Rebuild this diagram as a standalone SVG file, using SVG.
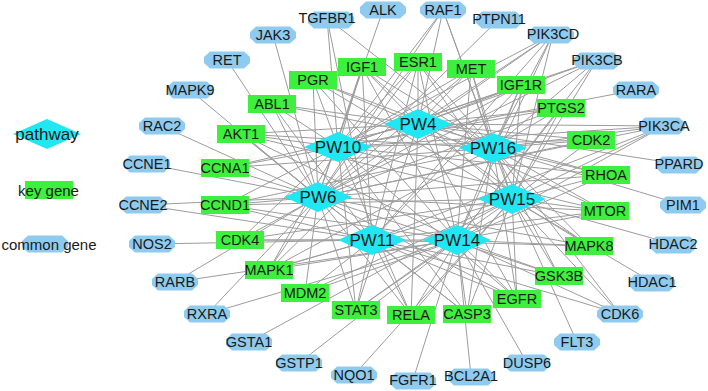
<svg xmlns="http://www.w3.org/2000/svg" xmlns:xlink="http://www.w3.org/1999/xlink" width="708" height="391" viewBox="0 0 708 391">
<style>
.bg{fill:#ffffff}
.e line{stroke:#9c9c9c;stroke-width:1}
.pw{fill:#20e7f2}
.kg{fill:#3df03d}
.cg{fill:#8ecbef}
text{font-family:"Liberation Sans",Arial,sans-serif;fill:#1a1a1a;text-anchor:middle;dominant-baseline:central}
.tp{font-size:17px}
.tg{font-size:14.5px}
.tl{font-size:15px}
</style>
<defs>
<polygon id="dia" points="-34,0 0,-15 34,0 0,15"/>
<rect id="box" x="-24" y="-9" width="48" height="18"/>
<polygon id="oct" points="-23,-3 -17,-8.5 17,-8.5 23,-3 23,3 17,8.5 -17,8.5 -23,3"/>
</defs>
<rect class="bg" x="0" y="0" width="708" height="391"/>
<g id="connectors" class="e">
<line x1="327" y1="18" x2="338" y2="147"/>
<line x1="327" y1="18" x2="493" y2="148"/>
<line x1="327" y1="18" x2="372" y2="240"/>
<line x1="273" y1="35" x2="318" y2="197"/>
<line x1="227" y1="60" x2="318" y2="197"/>
<line x1="190" y1="90" x2="318" y2="197"/>
<line x1="162" y1="126" x2="318" y2="197"/>
<line x1="147" y1="164" x2="318" y2="197"/>
<line x1="143" y1="205" x2="318" y2="197"/>
<line x1="143" y1="205" x2="372" y2="240"/>
<line x1="152" y1="244" x2="372" y2="240"/>
<line x1="175" y1="282" x2="318" y2="197"/>
<line x1="175" y1="282" x2="457" y2="240"/>
<line x1="207" y1="314" x2="318" y2="197"/>
<line x1="207" y1="314" x2="457" y2="240"/>
<line x1="249" y1="342" x2="512" y2="199"/>
<line x1="299" y1="363" x2="457" y2="240"/>
<line x1="354" y1="375" x2="512" y2="199"/>
<line x1="413" y1="380" x2="457" y2="240"/>
<line x1="471" y1="376" x2="457" y2="240"/>
<line x1="527" y1="363" x2="457" y2="240"/>
<line x1="577" y1="342" x2="512" y2="199"/>
<line x1="620" y1="314" x2="512" y2="199"/>
<line x1="620" y1="314" x2="493" y2="148"/>
<line x1="620" y1="314" x2="457" y2="240"/>
<line x1="620" y1="314" x2="372" y2="240"/>
<line x1="652" y1="282" x2="512" y2="199"/>
<line x1="673" y1="244" x2="512" y2="199"/>
<line x1="683" y1="205" x2="493" y2="148"/>
<line x1="679" y1="164" x2="418" y2="124"/>
<line x1="664" y1="126" x2="418" y2="124"/>
<line x1="664" y1="126" x2="338" y2="147"/>
<line x1="664" y1="126" x2="493" y2="148"/>
<line x1="664" y1="126" x2="512" y2="199"/>
<line x1="664" y1="126" x2="318" y2="197"/>
<line x1="664" y1="126" x2="372" y2="240"/>
<line x1="664" y1="126" x2="457" y2="240"/>
<line x1="636" y1="90" x2="338" y2="147"/>
<line x1="597" y1="60" x2="418" y2="124"/>
<line x1="597" y1="60" x2="493" y2="148"/>
<line x1="597" y1="60" x2="512" y2="199"/>
<line x1="597" y1="60" x2="338" y2="147"/>
<line x1="597" y1="60" x2="318" y2="197"/>
<line x1="597" y1="60" x2="457" y2="240"/>
<line x1="553" y1="34" x2="418" y2="124"/>
<line x1="553" y1="34" x2="338" y2="147"/>
<line x1="553" y1="34" x2="493" y2="148"/>
<line x1="553" y1="34" x2="512" y2="199"/>
<line x1="553" y1="34" x2="318" y2="197"/>
<line x1="553" y1="34" x2="372" y2="240"/>
<line x1="553" y1="34" x2="457" y2="240"/>
<line x1="499" y1="19" x2="318" y2="197"/>
<line x1="443" y1="10" x2="338" y2="147"/>
<line x1="443" y1="10" x2="318" y2="197"/>
<line x1="443" y1="10" x2="418" y2="124"/>
<line x1="443" y1="10" x2="493" y2="148"/>
<line x1="443" y1="10" x2="512" y2="199"/>
<line x1="383" y1="10" x2="318" y2="197"/>
<line x1="313" y1="80" x2="338" y2="147"/>
<line x1="313" y1="80" x2="418" y2="124"/>
<line x1="313" y1="80" x2="493" y2="148"/>
<line x1="313" y1="80" x2="318" y2="197"/>
<line x1="313" y1="80" x2="512" y2="199"/>
<line x1="313" y1="80" x2="457" y2="240"/>
<line x1="362" y1="67" x2="338" y2="147"/>
<line x1="362" y1="67" x2="318" y2="197"/>
<line x1="362" y1="67" x2="418" y2="124"/>
<line x1="362" y1="67" x2="493" y2="148"/>
<line x1="362" y1="67" x2="512" y2="199"/>
<line x1="362" y1="67" x2="372" y2="240"/>
<line x1="362" y1="67" x2="457" y2="240"/>
<line x1="418" y1="62" x2="418" y2="124"/>
<line x1="418" y1="62" x2="338" y2="147"/>
<line x1="418" y1="62" x2="318" y2="197"/>
<line x1="418" y1="62" x2="493" y2="148"/>
<line x1="418" y1="62" x2="512" y2="199"/>
<line x1="418" y1="62" x2="372" y2="240"/>
<line x1="418" y1="62" x2="457" y2="240"/>
<line x1="471" y1="69" x2="418" y2="124"/>
<line x1="471" y1="69" x2="493" y2="148"/>
<line x1="471" y1="69" x2="338" y2="147"/>
<line x1="471" y1="69" x2="512" y2="199"/>
<line x1="471" y1="69" x2="318" y2="197"/>
<line x1="471" y1="69" x2="457" y2="240"/>
<line x1="521" y1="85" x2="418" y2="124"/>
<line x1="521" y1="85" x2="493" y2="148"/>
<line x1="521" y1="85" x2="512" y2="199"/>
<line x1="521" y1="85" x2="338" y2="147"/>
<line x1="521" y1="85" x2="318" y2="197"/>
<line x1="521" y1="85" x2="372" y2="240"/>
<line x1="521" y1="85" x2="457" y2="240"/>
<line x1="561" y1="108" x2="493" y2="148"/>
<line x1="561" y1="108" x2="512" y2="199"/>
<line x1="561" y1="108" x2="418" y2="124"/>
<line x1="561" y1="108" x2="338" y2="147"/>
<line x1="561" y1="108" x2="318" y2="197"/>
<line x1="561" y1="108" x2="457" y2="240"/>
<line x1="591" y1="140" x2="493" y2="148"/>
<line x1="591" y1="140" x2="512" y2="199"/>
<line x1="591" y1="140" x2="418" y2="124"/>
<line x1="591" y1="140" x2="338" y2="147"/>
<line x1="591" y1="140" x2="318" y2="197"/>
<line x1="606" y1="175" x2="493" y2="148"/>
<line x1="606" y1="175" x2="512" y2="199"/>
<line x1="606" y1="175" x2="418" y2="124"/>
<line x1="606" y1="175" x2="338" y2="147"/>
<line x1="606" y1="175" x2="318" y2="197"/>
<line x1="606" y1="175" x2="457" y2="240"/>
<line x1="605" y1="211" x2="512" y2="199"/>
<line x1="605" y1="211" x2="493" y2="148"/>
<line x1="605" y1="211" x2="418" y2="124"/>
<line x1="605" y1="211" x2="338" y2="147"/>
<line x1="605" y1="211" x2="318" y2="197"/>
<line x1="605" y1="211" x2="457" y2="240"/>
<line x1="605" y1="211" x2="372" y2="240"/>
<line x1="589" y1="246" x2="512" y2="199"/>
<line x1="589" y1="246" x2="457" y2="240"/>
<line x1="589" y1="246" x2="493" y2="148"/>
<line x1="589" y1="246" x2="372" y2="240"/>
<line x1="589" y1="246" x2="318" y2="197"/>
<line x1="589" y1="246" x2="418" y2="124"/>
<line x1="559" y1="276" x2="512" y2="199"/>
<line x1="559" y1="276" x2="457" y2="240"/>
<line x1="559" y1="276" x2="493" y2="148"/>
<line x1="559" y1="276" x2="372" y2="240"/>
<line x1="559" y1="276" x2="318" y2="197"/>
<line x1="517" y1="299" x2="512" y2="199"/>
<line x1="517" y1="299" x2="457" y2="240"/>
<line x1="517" y1="299" x2="493" y2="148"/>
<line x1="517" y1="299" x2="372" y2="240"/>
<line x1="517" y1="299" x2="318" y2="197"/>
<line x1="517" y1="299" x2="418" y2="124"/>
<line x1="517" y1="299" x2="338" y2="147"/>
<line x1="467" y1="314" x2="457" y2="240"/>
<line x1="467" y1="314" x2="372" y2="240"/>
<line x1="467" y1="314" x2="512" y2="199"/>
<line x1="467" y1="314" x2="318" y2="197"/>
<line x1="467" y1="314" x2="493" y2="148"/>
<line x1="467" y1="314" x2="338" y2="147"/>
<line x1="411" y1="315" x2="372" y2="240"/>
<line x1="411" y1="315" x2="457" y2="240"/>
<line x1="411" y1="315" x2="318" y2="197"/>
<line x1="411" y1="315" x2="512" y2="199"/>
<line x1="411" y1="315" x2="338" y2="147"/>
<line x1="411" y1="315" x2="418" y2="124"/>
<line x1="356" y1="310" x2="372" y2="240"/>
<line x1="356" y1="310" x2="457" y2="240"/>
<line x1="356" y1="310" x2="318" y2="197"/>
<line x1="356" y1="310" x2="512" y2="199"/>
<line x1="356" y1="310" x2="338" y2="147"/>
<line x1="356" y1="310" x2="418" y2="124"/>
<line x1="305" y1="293" x2="318" y2="197"/>
<line x1="305" y1="293" x2="372" y2="240"/>
<line x1="305" y1="293" x2="457" y2="240"/>
<line x1="305" y1="293" x2="512" y2="199"/>
<line x1="269" y1="270" x2="318" y2="197"/>
<line x1="269" y1="270" x2="372" y2="240"/>
<line x1="269" y1="270" x2="457" y2="240"/>
<line x1="269" y1="270" x2="512" y2="199"/>
<line x1="269" y1="270" x2="338" y2="147"/>
<line x1="269" y1="270" x2="493" y2="148"/>
<line x1="269" y1="270" x2="418" y2="124"/>
<line x1="240" y1="240" x2="318" y2="197"/>
<line x1="240" y1="240" x2="372" y2="240"/>
<line x1="240" y1="240" x2="457" y2="240"/>
<line x1="240" y1="240" x2="512" y2="199"/>
<line x1="240" y1="240" x2="338" y2="147"/>
<line x1="225" y1="205" x2="318" y2="197"/>
<line x1="225" y1="205" x2="372" y2="240"/>
<line x1="225" y1="205" x2="457" y2="240"/>
<line x1="225" y1="205" x2="512" y2="199"/>
<line x1="225" y1="205" x2="338" y2="147"/>
<line x1="225" y1="205" x2="493" y2="148"/>
<line x1="225" y1="168" x2="318" y2="197"/>
<line x1="225" y1="168" x2="338" y2="147"/>
<line x1="225" y1="168" x2="418" y2="124"/>
<line x1="225" y1="168" x2="493" y2="148"/>
<line x1="241" y1="134" x2="338" y2="147"/>
<line x1="241" y1="134" x2="418" y2="124"/>
<line x1="241" y1="134" x2="493" y2="148"/>
<line x1="241" y1="134" x2="318" y2="197"/>
<line x1="241" y1="134" x2="512" y2="199"/>
<line x1="241" y1="134" x2="372" y2="240"/>
<line x1="241" y1="134" x2="457" y2="240"/>
<line x1="272" y1="104" x2="338" y2="147"/>
<line x1="272" y1="104" x2="318" y2="197"/>
<line x1="272" y1="104" x2="418" y2="124"/>
<line x1="272" y1="104" x2="493" y2="148"/>
<line x1="272" y1="104" x2="372" y2="240"/>
</g>
<g id="legend-pathway"><use xlink:href="#dia" class="pw" x="47" y="134"/><text class="tp" x="47" y="134">pathway</text></g>
<g id="legend-key"><use xlink:href="#box" class="kg" x="49" y="190"/><text class="tl" x="48.5" y="190">key gene</text></g>
<g id="legend-common"><use xlink:href="#oct" class="cg" x="45" y="244"/><text class="tl" x="49" y="244">common gene</text></g>
<g id="PW4"><use xlink:href="#dia" class="pw" x="418" y="124"/><text class="tp" x="418" y="124">PW4</text></g>
<g id="PW10"><use xlink:href="#dia" class="pw" x="338" y="147"/><text class="tp" x="338" y="147">PW10</text></g>
<g id="PW16"><use xlink:href="#dia" class="pw" x="493" y="148"/><text class="tp" x="493" y="148">PW16</text></g>
<g id="PW6"><use xlink:href="#dia" class="pw" x="318" y="197"/><text class="tp" x="318" y="197">PW6</text></g>
<g id="PW15"><use xlink:href="#dia" class="pw" x="512" y="199"/><text class="tp" x="512" y="199">PW15</text></g>
<g id="PW11"><use xlink:href="#dia" class="pw" x="372" y="240"/><text class="tp" x="372" y="240">PW11</text></g>
<g id="PW14"><use xlink:href="#dia" class="pw" x="457" y="240"/><text class="tp" x="457" y="240">PW14</text></g>
<g id="PGR"><use xlink:href="#box" class="kg" x="313" y="80"/><text class="tg" x="313" y="80">PGR</text></g>
<g id="IGF1"><use xlink:href="#box" class="kg" x="362" y="67"/><text class="tg" x="362" y="67">IGF1</text></g>
<g id="ESR1"><use xlink:href="#box" class="kg" x="418" y="62"/><text class="tg" x="418" y="62">ESR1</text></g>
<g id="MET"><use xlink:href="#box" class="kg" x="471" y="69"/><text class="tg" x="471" y="69">MET</text></g>
<g id="IGF1R"><use xlink:href="#box" class="kg" x="521" y="85"/><text class="tg" x="521" y="85">IGF1R</text></g>
<g id="PTGS2"><use xlink:href="#box" class="kg" x="561" y="108"/><text class="tg" x="561" y="108">PTGS2</text></g>
<g id="CDK2"><use xlink:href="#box" class="kg" x="591" y="140"/><text class="tg" x="591" y="140">CDK2</text></g>
<g id="RHOA"><use xlink:href="#box" class="kg" x="606" y="175"/><text class="tg" x="606" y="175">RHOA</text></g>
<g id="MTOR"><use xlink:href="#box" class="kg" x="605" y="211"/><text class="tg" x="605" y="211">MTOR</text></g>
<g id="MAPK8"><use xlink:href="#box" class="kg" x="589" y="246"/><text class="tg" x="589" y="246">MAPK8</text></g>
<g id="GSK3B"><use xlink:href="#box" class="kg" x="559" y="276"/><text class="tg" x="559" y="276">GSK3B</text></g>
<g id="EGFR"><use xlink:href="#box" class="kg" x="517" y="299"/><text class="tg" x="517" y="299">EGFR</text></g>
<g id="CASP3"><use xlink:href="#box" class="kg" x="467" y="314"/><text class="tg" x="467" y="314">CASP3</text></g>
<g id="RELA"><use xlink:href="#box" class="kg" x="411" y="315"/><text class="tg" x="411" y="315">RELA</text></g>
<g id="STAT3"><use xlink:href="#box" class="kg" x="356" y="310"/><text class="tg" x="356" y="310">STAT3</text></g>
<g id="MDM2"><use xlink:href="#box" class="kg" x="305" y="293"/><text class="tg" x="305" y="293">MDM2</text></g>
<g id="MAPK1"><use xlink:href="#box" class="kg" x="269" y="270"/><text class="tg" x="269" y="270">MAPK1</text></g>
<g id="CDK4"><use xlink:href="#box" class="kg" x="240" y="240"/><text class="tg" x="240" y="240">CDK4</text></g>
<g id="CCND1"><use xlink:href="#box" class="kg" x="225" y="205"/><text class="tg" x="225" y="205">CCND1</text></g>
<g id="CCNA1"><use xlink:href="#box" class="kg" x="225" y="168"/><text class="tg" x="225" y="168">CCNA1</text></g>
<g id="AKT1"><use xlink:href="#box" class="kg" x="241" y="134"/><text class="tg" x="241" y="134">AKT1</text></g>
<g id="ABL1"><use xlink:href="#box" class="kg" x="272" y="104"/><text class="tg" x="272" y="104">ABL1</text></g>
<g id="TGFBR1"><use xlink:href="#oct" class="cg" x="331" y="20"/><text class="tg" x="327" y="18">TGFBR1</text></g>
<g id="ALK"><use xlink:href="#oct" class="cg" x="383" y="10"/><text class="tg" x="383" y="10">ALK</text></g>
<g id="RAF1"><use xlink:href="#oct" class="cg" x="443" y="10"/><text class="tg" x="443" y="10">RAF1</text></g>
<g id="PTPN11"><use xlink:href="#oct" class="cg" x="499" y="20"/><text class="tg" x="499" y="19">PTPN11</text></g>
<g id="PIK3CD"><use xlink:href="#oct" class="cg" x="551" y="35"/><text class="tg" x="553" y="34">PIK3CD</text></g>
<g id="PIK3CB"><use xlink:href="#oct" class="cg" x="597" y="61"/><text class="tg" x="597" y="60">PIK3CB</text></g>
<g id="RARA"><use xlink:href="#oct" class="cg" x="636" y="90"/><text class="tg" x="636" y="90">RARA</text></g>
<g id="PIK3CA"><use xlink:href="#oct" class="cg" x="662" y="126"/><text class="tg" x="664" y="126">PIK3CA</text></g>
<g id="PPARD"><use xlink:href="#oct" class="cg" x="679" y="165"/><text class="tg" x="679" y="164">PPARD</text></g>
<g id="PIM1"><use xlink:href="#oct" class="cg" x="683" y="205"/><text class="tg" x="683" y="205">PIM1</text></g>
<g id="HDAC2"><use xlink:href="#oct" class="cg" x="673" y="245"/><text class="tg" x="673" y="244">HDAC2</text></g>
<g id="HDAC1"><use xlink:href="#oct" class="cg" x="652" y="283"/><text class="tg" x="652" y="282">HDAC1</text></g>
<g id="CDK6"><use xlink:href="#oct" class="cg" x="620" y="314"/><text class="tg" x="620" y="314">CDK6</text></g>
<g id="FLT3"><use xlink:href="#oct" class="cg" x="577" y="342"/><text class="tg" x="577" y="342">FLT3</text></g>
<g id="DUSP6"><use xlink:href="#oct" class="cg" x="527" y="363"/><text class="tg" x="527" y="363">DUSP6</text></g>
<g id="BCL2A1"><use xlink:href="#oct" class="cg" x="471" y="377"/><text class="tg" x="471" y="376">BCL2A1</text></g>
<g id="FGFR1"><use xlink:href="#oct" class="cg" x="413" y="381"/><text class="tg" x="413" y="380">FGFR1</text></g>
<g id="NQO1"><use xlink:href="#oct" class="cg" x="354" y="375"/><text class="tg" x="354" y="375">NQO1</text></g>
<g id="GSTP1"><use xlink:href="#oct" class="cg" x="299" y="363"/><text class="tg" x="299" y="363">GSTP1</text></g>
<g id="GSTA1"><use xlink:href="#oct" class="cg" x="249" y="342"/><text class="tg" x="249" y="342">GSTA1</text></g>
<g id="RXRA"><use xlink:href="#oct" class="cg" x="207" y="314"/><text class="tg" x="207" y="314">RXRA</text></g>
<g id="RARB"><use xlink:href="#oct" class="cg" x="175" y="282"/><text class="tg" x="175" y="282">RARB</text></g>
<g id="NOS2"><use xlink:href="#oct" class="cg" x="152" y="244"/><text class="tg" x="152" y="244">NOS2</text></g>
<g id="CCNE2"><use xlink:href="#oct" class="cg" x="143" y="205"/><text class="tg" x="143" y="205">CCNE2</text></g>
<g id="CCNE1"><use xlink:href="#oct" class="cg" x="147" y="164"/><text class="tg" x="147" y="164">CCNE1</text></g>
<g id="RAC2"><use xlink:href="#oct" class="cg" x="162" y="126"/><text class="tg" x="162" y="126">RAC2</text></g>
<g id="MAPK9"><use xlink:href="#oct" class="cg" x="190" y="90"/><text class="tg" x="190" y="90">MAPK9</text></g>
<g id="RET"><use xlink:href="#oct" class="cg" x="227" y="60"/><text class="tg" x="227" y="60">RET</text></g>
<g id="JAK3"><use xlink:href="#oct" class="cg" x="273" y="35"/><text class="tg" x="273" y="35">JAK3</text></g>
</svg>
